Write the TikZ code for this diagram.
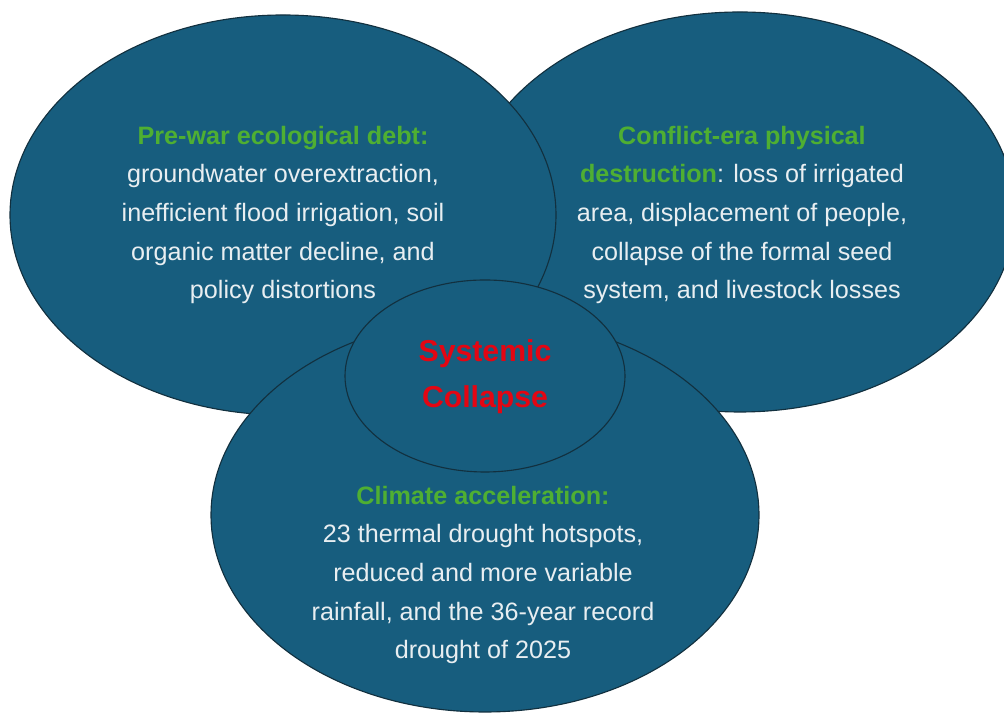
\documentclass[tikz,border=0pt]{standalone}
\usepackage{fontspec}
\setmainfont{Liberation Sans}
\usetikzlibrary{shapes.geometric}
\definecolor{vennblue}{HTML}{175D7E}
\definecolor{vennedge}{HTML}{12303F}
\definecolor{venngreen}{HTML}{4FAF32}
\definecolor{venntext}{HTML}{E8EEF1}
\definecolor{vennred}{HTML}{E30613}
\newcommand{\hd}[1]{\textcolor{venngreen}{\textbf{#1}}}

\begin{document}
\begin{tikzpicture}[
  blob/.style={draw=vennedge, line width=0.8pt, ellipse, fill=vennblue, inner sep=0pt},
  body/.style={align=center, text=venntext, font=\fontsize{17.9}{27.5}\selectfont}
]
\useasboundingbox (0,0) rectangle (25.1,17.875);

% the three drivers, right one first so the left one sits on top
\node[blob, minimum width=13.75cm, minimum height=10cm] (conflict) at (18.5,12.575) {};
\node[blob, minimum width=13.65cm, minimum height=10cm] (prewar) at (7.075,12.5) {};
\node[blob, minimum width=13.7cm, minimum height=9.85cm] (climate) at (12.125,5.0) {};
\node[blob, minimum width=7cm, minimum height=4.8cm] (core) at (12.125,8.475) {};

\node[body] (prewartext) at (prewar.center) {\hd{Pre-war ecological debt:}\\
  groundwater overextraction,\\ inefficient flood irrigation, soil\\
  organic matter decline, and\\ policy distortions};
\node[body] (conflicttext) at (18.55,12.5) {\hd{Conflict-era physical}\\
  \hd{destruction}: loss of irrigated\\ area, displacement of people,\\
  collapse of the formal seed\\ system, and livestock losses};
\node[body] (climatetext) at (12.075,3.5) {\hd{Climate acceleration:}\\
  23 thermal drought hotspots,\\ reduced and more variable\\
  rainfall, and the 36-year record\\ drought of 2025};

\node[align=center, text=vennred, font=\fontsize{21.5}{32.7}\selectfont\bfseries]
  (coretext) at (12.125,8.45) {Systemic\\Collapse};
\end{tikzpicture}
\end{document}
